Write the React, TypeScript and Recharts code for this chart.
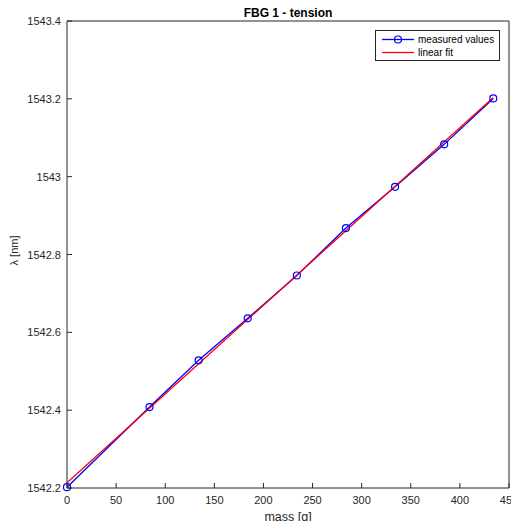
import React from 'react';
import { ComposedChart, Line, XAxis, YAxis, Legend } from 'recharts';

const massValues = [0, 84, 134, 184, 234, 284, 334, 384, 434];
const wavelengthValues = [1542.202, 1542.408, 1542.528, 1542.636, 1542.746, 1542.868, 1542.974, 1543.083, 1543.201];
const fitMass = [0, 434];
const fitWavelength = [1542.2134, 1543.2033];
const xTicks = [0, 50, 100, 150, 200, 250, 300, 350, 400, 450];
const yTicks = [1542.2, 1542.4, 1542.6, 1542.8, 1543, 1543.2, 1543.4];
const seriesNames = ['measured values', 'linear fit'];
const seriesColors = ['#0000ff', '#ff0000'];
const titleText = 'FBG 1 - tension';
const xLabelText = 'mass [g]';
const yLabelText = 'λ [nm]';

const measured = massValues.map((m, i) => ({ mass: m, lambda: wavelengthValues[i] }));
const fit = fitMass.map((m, i) => ({ mass: m, lambda: fitWavelength[i] }));

const FONT = '"Liberation Sans", Arial, Helvetica, sans-serif';
const AXIS = '#262626';
const TICK = 5;

const BottomTick = (p: any) => (
  <g>
    <line x1={p.x} y1={p.y} x2={p.x} y2={p.y - TICK} stroke={AXIS} strokeWidth={1} />
    <text x={p.x} y={p.y + 16} textAnchor="middle" fill={AXIS} fontSize={11} fontFamily={FONT}>
      {String(p.payload.value)}
    </text>
  </g>
);
const TopTick = (p: any) => (
  <line x1={p.x} y1={p.y} x2={p.x} y2={p.y + TICK} stroke={AXIS} strokeWidth={1} />
);
const LeftTick = (p: any) => (
  <g>
    <line x1={p.x} y1={p.y} x2={p.x + TICK} y2={p.y} stroke={AXIS} strokeWidth={1} />
    <text x={p.x - 6} y={p.y + 4} textAnchor="end" fill={AXIS} fontSize={11} fontFamily={FONT}>
      {String(p.payload.value)}
    </text>
  </g>
);
const RightTick = (p: any) => (
  <line x1={p.x} y1={p.y} x2={p.x - TICK} y2={p.y} stroke={AXIS} strokeWidth={1} />
);

const TitleLabel = (props: any) => {
  const vb = props.viewBox || { x: 67, y: 20, width: 442, height: 1 };
  return (
    <text x={vb.x + vb.width / 2} y={vb.y - 3} textAnchor="middle" fontWeight="bold" fontSize={12} fill="#000" fontFamily={FONT}>
      {titleText}
    </text>
  );
};
const XLabel = (props: any) => {
  const vb = props.viewBox || { x: 67, y: 488, width: 442, height: 33 };
  return (
    <text x={vb.x + vb.width / 2} y={vb.y + 33} textAnchor="middle" fontSize={12.5} fill={AXIS} fontFamily={FONT}>
      {xLabelText}
    </text>
  );
};
const YLabel = (props: any) => {
  const vb = props.viewBox || { x: 0, y: 21, width: 67, height: 467 };
  const cx = vb.x + 18;
  const cy = vb.y + vb.height / 2 - 4;
  return (
    <text x={cx} y={cy} transform={`rotate(-90 ${cx} ${cy})`} textAnchor="middle" fontSize={11} fill={AXIS} fontFamily={FONT}>
      {yLabelText}
    </text>
  );
};

const LegendBox = () => (
  <div
    style={{
      width: 125,
      height: 31,
      boxSizing: 'border-box',
      border: `1px solid ${AXIS}`,
      background: '#fff',
      fontFamily: FONT,
      fontSize: 10,
      color: '#000',
      position: 'relative',
    }}
  >
    {seriesNames.map((name, i) => (
      <div key={name} style={{ position: 'absolute', left: 5, top: 2 + i * 13, height: 13, display: 'flex', alignItems: 'center' }}>
        <svg width={36} height={13} style={{ display: 'block' }}>
          <line x1={1} y1={6.5} x2={33} y2={6.5} stroke={seriesColors[i]} strokeWidth={1.3} />
          {i === 0 && <circle cx={17} cy={6.5} r={3.5} stroke={seriesColors[i]} fill="none" strokeWidth={1.2} />}
        </svg>
        <span style={{ marginLeft: 1, lineHeight: '13px', whiteSpace: 'nowrap' }}>{name}</span>
      </div>
    ))}
  </div>
);

export default function App() {
  return (
    <div style={{ margin: -8, width: 519, height: 529 }}>
      <ComposedChart width={519} height={529} margin={{ top: 20, right: 9, bottom: 8, left: 0 }}>
        <XAxis
          xAxisId="bottom"
          dataKey="mass"
          type="number"
          domain={[0, 450]}
          ticks={xTicks}
          interval={0}
          height={33}
          tickSize={0}
          tickMargin={0}
          tickLine={false}
          axisLine={{ stroke: AXIS, strokeWidth: 1 }}
          tick={BottomTick}
          label={XLabel}
        />
        <XAxis
          xAxisId="top"
          orientation="top"
          dataKey="mass"
          type="number"
          domain={[0, 450]}
          ticks={xTicks}
          interval={0}
          height={1}
          tickSize={0}
          tickMargin={0}
          tickLine={false}
          axisLine={{ stroke: AXIS, strokeWidth: 1 }}
          tick={TopTick}
          label={TitleLabel}
        />
        <YAxis
          yAxisId="left"
          type="number"
          domain={[1542.2, 1543.4]}
          ticks={yTicks}
          interval={0}
          width={67}
          tickSize={0}
          tickMargin={0}
          tickLine={false}
          axisLine={{ stroke: AXIS, strokeWidth: 1 }}
          tick={LeftTick}
          label={YLabel}
        />
        <YAxis
          yAxisId="right"
          orientation="right"
          type="number"
          domain={[1542.2, 1543.4]}
          ticks={yTicks}
          interval={0}
          width={1}
          tickSize={0}
          tickMargin={0}
          tickLine={false}
          axisLine={{ stroke: AXIS, strokeWidth: 1 }}
          tick={RightTick}
        />
        <Legend
          layout="vertical"
          align="center"
          verticalAlign="middle"
          wrapperStyle={{ top: 30, left: 375, width: 125, height: 31 }}
          content={LegendBox}
        />
        <Line
          data={measured}
          xAxisId="bottom"
          yAxisId="left"
          dataKey="lambda"
          name={seriesNames[0]}
          type="linear"
          stroke={seriesColors[0]}
          strokeWidth={1.3}
          dot={{ r: 3.5, stroke: seriesColors[0], strokeWidth: 1.2, fill: 'none' }}
          isAnimationActive={false}
        />
        <Line
          data={fit}
          xAxisId="bottom"
          yAxisId="left"
          dataKey="lambda"
          name={seriesNames[1]}
          type="linear"
          stroke={seriesColors[1]}
          strokeWidth={1.3}
          dot={false}
          isAnimationActive={false}
        />
      </ComposedChart>
    </div>
  );
}
